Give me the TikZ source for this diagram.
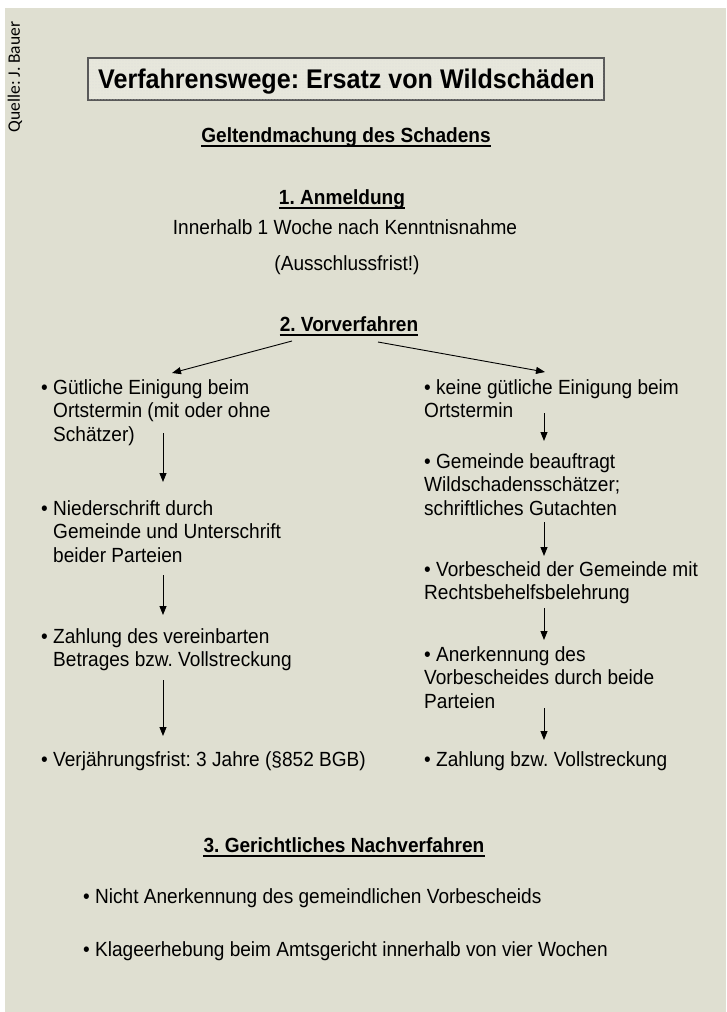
\documentclass[tikz,border=0pt]{standalone}
\usepackage{fontspec}
\setmainfont[FakeStretch=0.93]{Liberation Sans}
\newfontfamily\quellefont{Carlito}
\usetikzlibrary{arrows.meta,positioning,patterns}
\frenchspacing
\definecolor{paper}{RGB}{223,223,209}
\definecolor{boxfill}{RGB}{231,231,220}
\newcommand{\lines}[1]{\parbox[t]{300pt}{\raggedright #1}}
\newcommand{\hangbullet}{\leavevmode\llap{\textbullet\ }}
\tikzset{%
	heading/.style  = {inner sep=0pt, anchor=base, font=\fontsize{20.5}{23.5}\selectfont\bfseries},
	plain/.style    = {inner sep=0pt, anchor=base, font=\fontsize{20.5}{23.5}\selectfont},
	item/.style     = {inner sep=0pt, anchor=base west, font=\fontsize{20.5}{23.5}\selectfont},
	titlebox/.style = {draw=black!65, line width=1.3pt, fill=boxfill},
	underline/.style = {line width=1.4pt},
	arrow/.style    = {line width=0.9pt, -{Triangle[length=9pt,width=7pt]}},
}
\begin{document}
\begin{tikzpicture}[x=1pt, y=-1pt]
	\useasboundingbox (0,0) rectangle (726,1012);
	\fill[white] (0,0) rectangle (726,1012);
	\fill[paper] (5,8) rectangle (726,1012);
	\node[rotate=90, inner sep=0pt, font=\quellefont\fontsize{17.5}{20}\selectfont] (quelle) at (15,77) {Quelle: J. Bauer};
	
	% title
	\draw[titlebox] (88,58) rectangle (604,100);
	\fill[pattern=dots, pattern color=black!14] (89,59) rectangle (603,99);
	\node[inner sep=0pt, anchor=base west, font=\fontsize{27}{30}\selectfont\bfseries] (titel) at (98,88) {Verfahrenswege: Ersatz von Wildschäden};
	
	\node[heading] (geltend) at (346,142) {Geltendmachung des Schadens};
	\node[heading] (anmeld) at (342,204) {1. Anmeldung};
	\node[plain] (frist) at (345,234) {Innerhalb 1 Woche nach Kenntnisnahme};
	\node[plain] (aus) at (347,270) {(Ausschlussfrist!)};
	\node[heading] (vorv) at (349,331) {2. Vorverfahren};
	
	% left: guetliche Einigung
	\node[item] (l1) at (53,394) {\lines{\hangbullet Gütliche Einigung beim\\Ortstermin (mit oder ohne\\Schätzer)}};
	\node[item] (l2) at (53,515) {\lines{\hangbullet Niederschrift durch\\Gemeinde und Unterschrift\\beider Parteien}};
	\node[item] (l3) at (53,643) {\lines{\hangbullet Zahlung des vereinbarten\\Betrages bzw. Vollstreckung}};
	\node[item] (l4) at (53,766) {\hangbullet Verjährungsfrist: 3 Jahre (§852 BGB)};
	
	% right: keine Einigung
	\node[item] (r1) at (424,394) {\lines{\textbullet\ keine gütliche Einigung beim\\Ortstermin}};
	\node[item] (r2) at (424,468) {\lines{\textbullet\ Gemeinde beauftragt\\Wildschadensschätzer;\\schriftliches Gutachten}};
	\node[item] (r3) at (424,576) {\lines{\textbullet\ Vorbescheid der Gemeinde mit\\Rechtsbehelfsbelehrung}};
	\node[item] (r4) at (424,661) {\lines{\textbullet\ Anerkennung des\\Vorbescheides durch beide\\Parteien}};
	\node[item] (r5) at (424,766) {\textbullet\ Zahlung bzw. Vollstreckung};
	
	\node[heading] (nachv) at (344,852) {3. Gerichtliches Nachverfahren};
	\node[item] (n1) at (83,903) {\textbullet\ Nicht Anerkennung des gemeindlichen Vorbescheids};
	\node[item] (n2) at (83,956) {\textbullet\ Klageerhebung beim Amtsgericht innerhalb von vier Wochen};
	
	% underlines
	\foreach \h in {geltend,anmeld,vorv,nachv}
		\draw[underline] ([yshift=-4pt]\h.base west) -- ([yshift=-4pt]\h.base east);
	
	% arrow ends
	\coordinate (vl) at (292,341);
	\coordinate (vr) at (378,342);
	\coordinate (l1e) at (172,373);
	\coordinate (r1e) at (545,372);
	\coordinate (la) at (163,433);
	\coordinate (lb) at (163,482);
	\coordinate (lc) at (163,575);
	\coordinate (ld) at (163,615);
	\coordinate (le) at (163,680);
	\coordinate (lf) at (163,736);
	\coordinate (ra) at (544,413);
	\coordinate (rb) at (544,441);
	\coordinate (rc) at (544,522);
	\coordinate (rd) at (544,556);
	\coordinate (re) at (544,608);
	\coordinate (rf) at (544,640);
	\coordinate (rg) at (544,708);
	\coordinate (rh) at (544,740);
	
	\draw[arrow] (vl) -- (l1e);
	\draw[arrow] (vr) -- (r1e);
	\draw[arrow] (la) -- (lb);
	\draw[arrow] (lc) -- (ld);
	\draw[arrow] (le) -- (lf);
	\draw[arrow] (ra) -- (rb);
	\draw[arrow] (rc) -- (rd);
	\draw[arrow] (re) -- (rf);
	\draw[arrow] (rg) -- (rh);
\end{tikzpicture}
\end{document}
